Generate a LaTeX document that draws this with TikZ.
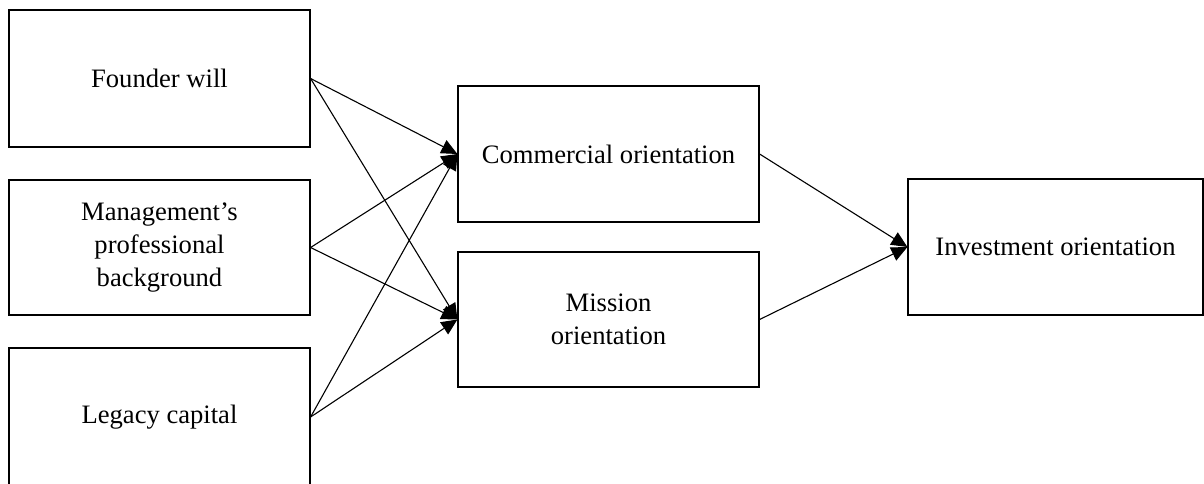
\documentclass[tikz,border=0pt]{standalone}
\usepackage{fontspec}
\setmainfont{Liberation Serif}
\usetikzlibrary{arrows.meta}
\begin{document}
\begin{tikzpicture}[x=0.5pt,y=-0.5pt,
  box/.style={draw, line width=0.6pt, rectangle, align=center, inner sep=0pt,
    font=\fontsize{13.3pt}{16.3pt}\selectfont},
  link/.style={line width=0.55pt, -{Triangle[length=8pt,width=7.2pt]}}]
\useasboundingbox (0,0) rectangle (1204,483);
\node[box, minimum width=150.5pt, minimum height=68.5pt] (f) at (159.5,78.5) {Founder will};
\node[box, minimum width=150.5pt, minimum height=67.5pt] (m) at (159.5,247.5) {Management’s\\professional\\background};
\node[box, minimum width=150.5pt, minimum height=69pt] (l) at (159.5,417) {Legacy capital};
\node[box, minimum width=150.5pt, minimum height=68pt] (c) at (608.5,154) {Commercial orientation};
\node[box, minimum width=150.5pt, minimum height=67.5pt] (mi) at (608.5,319.5) {Mission\\orientation};
\node[box, minimum width=147.5pt, minimum height=68pt] (inv) at (1055.5,247) {Investment orientation};
\draw[link] (f.east) -- (c.west);
\draw[link] (f.east) -- (mi.west);
\draw[link] (m.east) -- (c.west);
\draw[link] (m.east) -- (mi.west);
\draw[link] (l.east) -- (c.west);
\draw[link] (l.east) -- (mi.west);
\draw[link] (c.east) -- (inv.west);
\draw[link] (mi.east) -- (inv.west);
\end{tikzpicture}
\end{document}
